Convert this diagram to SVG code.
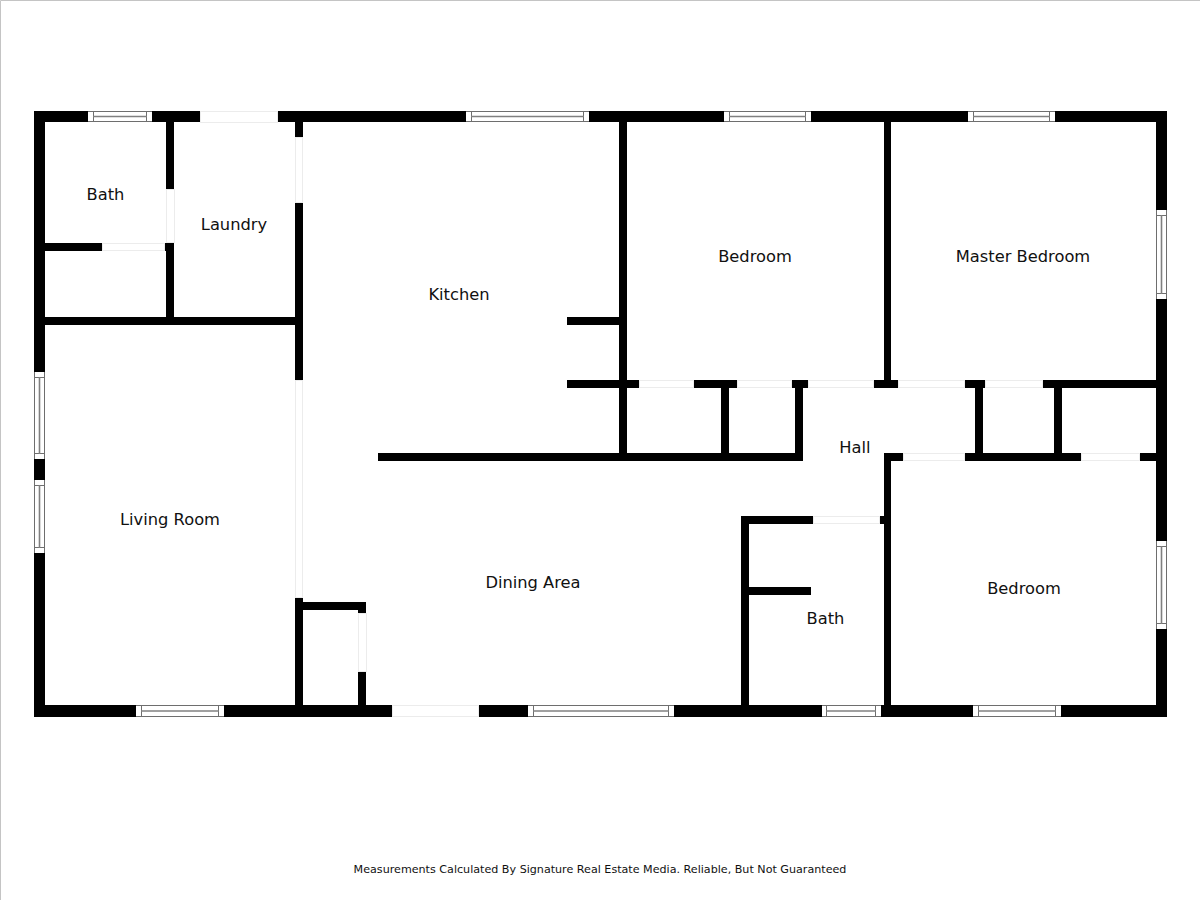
<svg xmlns="http://www.w3.org/2000/svg" width="1200" height="900" viewBox="0 0 1200 900">
<style>
.w{fill:#000}
.d{fill:#fff;stroke:#ececec;stroke-width:1}
.f{fill:#fff}
.c{stroke:#6e6e6e;stroke-width:1;fill:none}
.m{stroke:#808080;stroke-width:1.6;fill:none}
text{font-family:"DejaVu Sans",Verdana,sans-serif;fill:#111;text-anchor:middle}
.r{font-size:16.3px}
.n{font-size:11.13px}
</style>
<rect width="1200" height="900" fill="#fff"/>
<path d="M0.500 900V0.500H1200" fill="none" stroke="#c4c4c4"/>
<g id="walls">
<rect class="w" x="34" y="111" width="1133" height="11"/>
<rect class="w" x="34" y="705" width="1133" height="12"/>
<rect class="w" x="34" y="111" width="11" height="606"/>
<rect class="w" x="1156" y="111" width="11" height="606"/>
<rect class="w" x="166" y="122" width="8" height="198"/>
<rect class="w" x="45" y="243" width="129" height="8"/>
<rect class="w" x="45" y="317" width="254" height="8"/>
<rect class="w" x="295" y="122" width="8" height="258"/>
<rect class="w" x="295" y="597" width="8" height="110"/>
<rect class="w" x="303" y="602" width="63" height="8"/>
<rect class="w" x="358" y="602" width="8" height="105"/>
<rect class="w" x="619" y="122" width="8" height="335"/>
<rect class="w" x="567" y="317" width="54" height="8"/>
<rect class="w" x="567" y="380" width="589" height="8"/>
<rect class="w" x="378" y="453" width="425" height="8"/>
<rect class="w" x="721" y="386" width="8" height="70"/>
<rect class="w" x="795" y="386" width="8" height="70"/>
<rect class="w" x="884" y="122" width="7" height="262"/>
<rect class="w" x="975" y="386" width="8" height="70"/>
<rect class="w" x="1054" y="386" width="8" height="70"/>
<rect class="w" x="884" y="453" width="272" height="8"/>
<rect class="w" x="884" y="453" width="7" height="254"/>
<rect class="w" x="741" y="516" width="143" height="8"/>
<rect class="w" x="741" y="516" width="8" height="191"/>
<rect class="w" x="749" y="587" width="62" height="8"/>
</g>
<g id="openings">
<rect class="d" x="200.500" y="111.500" width="77" height="11"/>
<rect class="d" x="392.500" y="705.500" width="86" height="11"/>
<rect class="d" x="295.500" y="137.500" width="7" height="65"/>
<rect class="d" x="295.500" y="380.500" width="7" height="217"/>
<rect class="d" x="166.500" y="189.500" width="8" height="53"/>
<rect class="d" x="102.500" y="243.500" width="62" height="7"/>
<rect class="d" x="358.500" y="613.500" width="8" height="58"/>
<rect class="d" x="639.500" y="380.500" width="54" height="7"/>
<rect class="d" x="737.500" y="380.500" width="54" height="7"/>
<rect class="d" x="808.500" y="380.500" width="65" height="7"/>
<rect class="d" x="898.500" y="380.500" width="66" height="7"/>
<rect class="d" x="985.500" y="380.500" width="57" height="7"/>
<rect class="d" x="903.500" y="453.500" width="61" height="7"/>
<rect class="d" x="1081.500" y="453.500" width="58" height="7"/>
<rect class="d" x="813.500" y="516.500" width="66" height="7"/>
</g>
<g id="windows">
<rect class="f" x="88" y="111" width="64" height="11"/><path class="c" d="M88 111.500H152M88 121.500H152M93.500 111V122M146.500 111V122"/><path class="m" d="M93 116.500H147"/>
<rect class="f" x="466" y="111" width="123" height="11"/><path class="c" d="M466 111.500H589M466 121.500H589M471.500 111V122M583.500 111V122"/><path class="m" d="M471 116.500H584"/>
<rect class="f" x="724" y="111" width="87" height="11"/><path class="c" d="M724 111.500H811M724 121.500H811M729.500 111V122M805.500 111V122"/><path class="m" d="M729 116.500H806"/>
<rect class="f" x="968" y="111" width="87" height="11"/><path class="c" d="M968 111.500H1055M968 121.500H1055M973.500 111V122M1049.500 111V122"/><path class="m" d="M973 116.500H1050"/>
<rect class="f" x="136" y="705" width="88" height="12"/><path class="c" d="M136 705.500H224M136 716.500H224M141.500 705V717M218.500 705V717"/><path class="m" d="M141 711H219"/>
<rect class="f" x="528" y="705" width="146" height="12"/><path class="c" d="M528 705.500H674M528 716.500H674M533.500 705V717M668.500 705V717"/><path class="m" d="M533 711H669"/>
<rect class="f" x="822" y="705" width="59" height="12"/><path class="c" d="M822 705.500H881M822 716.500H881M826.500 705V717M875.500 705V717"/><path class="m" d="M826 711H876"/>
<rect class="f" x="973" y="705" width="88" height="12"/><path class="c" d="M973 705.500H1061M973 716.500H1061M978.500 705V717M1055.500 705V717"/><path class="m" d="M978 711H1056"/>
<rect class="f" x="34" y="372" width="11" height="87"/><path class="c" d="M34.500 372V459M44.500 372V459M34 377.500H45M34 453.500H45"/><path class="m" d="M39.500 377V454"/>
<rect class="f" x="34" y="480" width="11" height="73"/><path class="c" d="M34.500 480V553M44.500 480V553M34 485.500H45M34 547.500H45"/><path class="m" d="M39.500 485V548"/>
<rect class="f" x="1156" y="210" width="11" height="89"/><path class="c" d="M1156.500 210V299M1166.500 210V299M1156 215.500H1167M1156 293.500H1167"/><path class="m" d="M1161.500 215V294"/>
<rect class="f" x="1156" y="541" width="11" height="88"/><path class="c" d="M1156.500 541V629M1166.500 541V629M1156 546.500H1167M1156 623.500H1167"/><path class="m" d="M1161.500 546V624"/>
</g>
<g id="labels">
<text class="r" x="105.500" y="200">Bath</text>
<text class="r" x="234" y="230">Laundry</text>
<text class="r" x="459" y="300">Kitchen</text>
<text class="r" x="755" y="262">Bedroom</text>
<text class="r" x="1023" y="262">Master Bedroom</text>
<text class="r" x="855" y="453">Hall</text>
<text class="r" x="170" y="525">Living Room</text>
<text class="r" x="533" y="588">Dining Area</text>
<text class="r" x="825.500" y="624">Bath</text>
<text class="r" x="1024" y="594">Bedroom</text>
<text class="n" x="600" y="873">Measurements Calculated By Signature Real Estate Media. Reliable, But Not Guaranteed</text>
</g>
</svg>
